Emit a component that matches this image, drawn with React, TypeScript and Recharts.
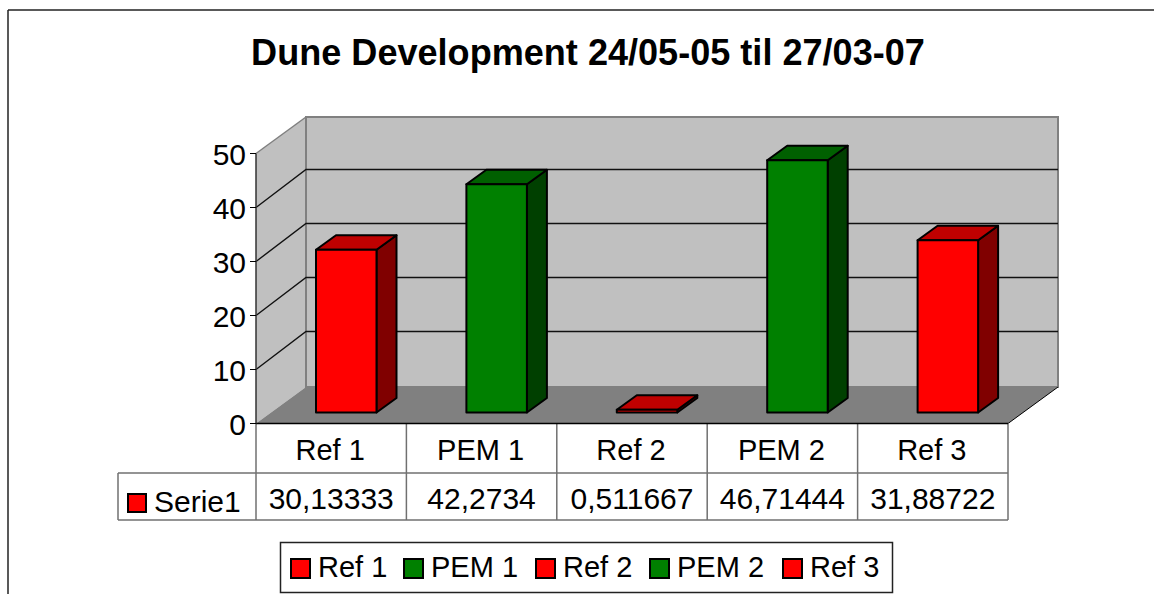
import { BarChart, Bar, XAxis, YAxis, CartesianGrid } from "recharts";

const categories = ["Ref 1", "PEM 1", "Ref 2", "PEM 2", "Ref 3"];
const serie1 = [30.13333, 42.2734, 0.511667, 46.71444, 31.88722];
const yTicks = [0, 10, 20, 30, 40, 50];
const seriesName = "Serie1";
const title = "Dune Development 24/05-05 til 27/03-07";

const RED = { front: "#ff0000", top: "#bf0000", side: "#800000" };
const GREEN = { front: "#008000", top: "#006000", side: "#004000" };
const palette = [RED, GREEN, RED, GREEN, RED];

const data = categories.map((name, i) => ({ name, value: serie1[i] }));

// plot area = front plane of the fake 3d box
const W = 1154;
const H = 594;
const L = 256;
const R = 1008;
const T = 153.5;
const B = 423.5;
const DX = 50;
const DY = 36.5;
const FONT = "'Liberation Sans', Arial, sans-serif";
const TEXT = 29;
const VALUE_TEXT = 30;

// x of every legend key, legend is laid out by hand
const legendKeys = [291, 404, 536, 650, 783];

function Bar3D(props: any) {
  const { x, y, width, height, index } = props;
  const c = palette[index];
  const fx = x + 15;
  const fy = y - 11;
  const dx = 20;
  const dy = 14.5;
  const common = { stroke: "#000", strokeWidth: 2, strokeLinejoin: "round" as const };
  return (
    <g>
      <polygon
        points={`${fx + width},${fy} ${fx + width + dx},${fy - dy} ${fx + width + dx},${fy + height - dy} ${fx + width},${fy + height}`}
        fill={c.side}
        {...common}
      />
      <polygon
        points={`${fx},${fy} ${fx + dx},${fy - dy} ${fx + width + dx},${fy - dy} ${fx + width},${fy}`}
        fill={c.top}
        {...common}
      />
      <rect x={fx} y={fy} width={width} height={height} fill={c.front} {...common} />
    </g>
  );
}

function Walls() {
  return (
    <g>
      <polygon
        points={`${L},${T} ${L + DX},${T - DY} ${L + DX},${B - DY} ${L},${B}`}
        fill="#c0c0c0"
      />
      <rect x={L + DX} y={T - DY} width={R - L} height={B - T} fill="#c0c0c0" stroke="#808080" strokeWidth={2} />
      <line x1={L} y1={T} x2={L + DX} y2={T - DY} stroke="#808080" strokeWidth={1.5} />
      <polygon
        points={`${L},${B} ${L + DX},${B - DY} ${R + DX},${B - DY} ${R},${B}`}
        fill="#808080"
      />
      <line x1={R} y1={B} x2={R + DX} y2={B - DY} stroke="#000" strokeWidth={1} />
    </g>
  );
}

function GridLine(props: any) {
  const { y1, key } = props;
  if (y1 >= B - 1 || y1 <= T + 1) return <g key={key} />;
  return (
    <polyline
      key={key}
      points={`${L},${y1} ${L + DX},${y1 - 38} ${R + DX},${y1 - 38}`}
      fill="none"
      stroke="#111"
      strokeWidth={1.4}
    />
  );
}

function DataTable() {
  const step = (R - L) / categories.length;
  const line = "#707070";
  return (
    <g fontFamily={FONT} fontSize={VALUE_TEXT} fill="#000">
      <line x1={118} y1={473} x2={R} y2={473} stroke={line} strokeWidth={1.5} />
      <line x1={118} y1={520} x2={R} y2={520} stroke={line} strokeWidth={1.5} />
      <line x1={118} y1={473} x2={118} y2={520} stroke={line} strokeWidth={1.5} />
      {categories.map((_, i) => (
        <line key={i} x1={L + i * step} y1={B} x2={L + i * step} y2={520} stroke={line} strokeWidth={1.5} />
      ))}
      <line x1={R} y1={B} x2={R} y2={520} stroke={line} strokeWidth={1.5} />
      <rect x={128} y={494} width={18} height={18} fill={RED.front} stroke="#000" strokeWidth={2} />
      <text x={154} y={511.5}>{seriesName}</text>
      {serie1.map((v, i) => (
        <text key={i} x={L + (i + 0.5) * step} y={509} textAnchor="middle">
          {String(v).replace(".", ",")}
        </text>
      ))}
    </g>
  );
}

function LegendBox() {
  return (
    <g fontFamily={FONT} fontSize={TEXT} fill="#000">
      <rect x={280.5} y={542.5} width={612} height={50} fill="#fff" stroke="#222" strokeWidth={1.5} />
      {categories.map((name, i) => (
        <g key={name}>
          <rect x={legendKeys[i]} y={559} width={19} height={19} fill={palette[i].front} stroke="#000" strokeWidth={2} />
          <text x={legendKeys[i] + 27} y={577}>{name}</text>
        </g>
      ))}
    </g>
  );
}

function CategoryTick(props: any) {
  const { x, payload } = props;
  return (
    <text x={x - 1} y={459.5} textAnchor="middle" fontFamily={FONT} fontSize={TEXT} fill="#000">
      {payload.value}
    </text>
  );
}

export default function App() {
  return (
    <div style={{ position: "absolute", left: 0, top: 0, width: W, height: H, background: "#fff" }}>
      <BarChart
        width={W}
        height={H}
        data={data}
        margin={{ left: L - 1, right: W - R, top: T, bottom: H - B - 1 }}
      >
        <line x1={8} y1={10} x2={W} y2={10} stroke="#222" strokeWidth={1.5} />
        <line x1={8} y1={10} x2={8} y2={H} stroke="#222" strokeWidth={1.5} />
        <text x={588} y={65} textAnchor="middle" fontFamily={FONT} fontWeight="bold" fontSize={36.1} fill="#000">
          {title}
        </text>
        <Walls />
        <CartesianGrid vertical={false} horizontal={GridLine} zIndex={1} />
        <XAxis
          dataKey="name"
          tick={<CategoryTick />}
          tickLine={false}
          axisLine={{ stroke: "#000", strokeWidth: 1.5 }}
          interval={0}
          height={1}
        />
        <YAxis
          domain={[0, 50]}
          ticks={yTicks}
          tick={{ fontSize: VALUE_TEXT, fontFamily: FONT, fill: "#000", dy: 1 }}
          tickSize={6}
          tickMargin={4}
          axisLine={{ stroke: "#333", strokeWidth: 1.5 }}
          tickLine={{ stroke: "#000" }}
          width={1}
        />
        <Bar dataKey="value" shape={<Bar3D />} isAnimationActive={false} barSize={60.5} />
        <DataTable />
        <LegendBox />
      </BarChart>
    </div>
  );
}
